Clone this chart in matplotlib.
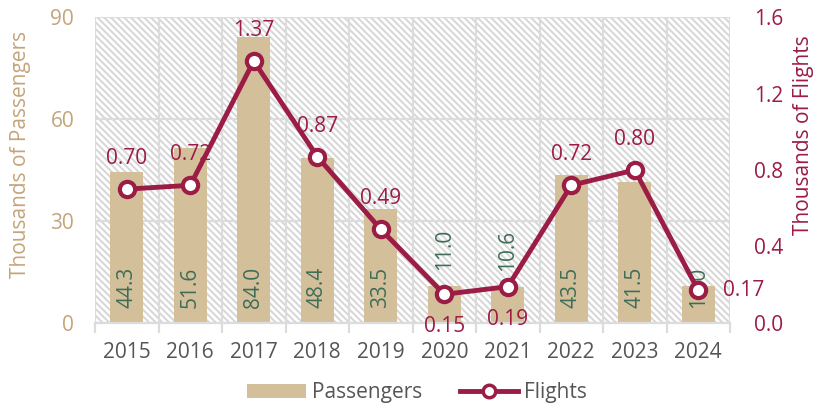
import matplotlib
matplotlib.use('Agg')
from matplotlib import pyplot as plt
from matplotlib.patches import Rectangle
from matplotlib.lines import Line2D
from matplotlib.patches import Patch
import numpy as np

years = ['2015', '2016', '2017', '2018', '2019', '2020', '2021', '2022', '2023', '2024']
passengers = [44.3, 51.6, 84.0, 48.4, 33.5, 11.0, 10.6, 43.5, 41.5, 11.0]
flights = [0.70, 0.72, 1.37, 0.87, 0.49, 0.15, 0.19, 0.72, 0.80, 0.17]

tan = '#D3C09A'
tan_text = '#C4A47A'
maroon = '#9B1C45'
green = '#3F6D58'
grid = '#DCDCDC'

plt.rcParams['font.family'] = ['Open Sans', 'DejaVu Sans']
plt.rcParams['hatch.linewidth'] = 1.4
plt.rcParams['hatch.color'] = '#D6D6D6'

fig = plt.figure(figsize=(8.18, 4.16), dpi=100)
ax = fig.add_axes([95 / 818, 93 / 416, 635 / 818, 306 / 416])
ax2 = ax.twinx()

x = np.arange(len(years))

# hatched plot background
ax.add_patch(Rectangle((0, 0), 1, 1, transform=ax.transAxes, facecolor='white',
                       edgecolor='#D6D6D6', hatch='\\' * 5, linewidth=0, zorder=0))

bars = ax.bar(x, passengers, width=0.52, color=tan, zorder=2)
ax.set_xlim(-0.5, len(years) - 0.5)
ax.set_ylim(0, 90)
ax.set_yticks([0, 30, 60, 90])
ax.set_xticks(x)
ax.set_xticklabels(years)
ax.set_xticks(np.arange(-0.5, len(years)), minor=True)
ax.grid(True, which='minor', axis='x', color=grid, linewidth=1.6, zorder=1)
ax.grid(True, which='major', axis='y', color=grid, linewidth=1.6, zorder=1)
ax.set_axisbelow(True)
ax.tick_params(axis='x', which='major', length=0, labelsize=15, colors='#555555', pad=14)
ax.tick_params(axis='x', which='minor', length=7, width=1.6, color=grid)
ax.tick_params(axis='y', length=0, labelsize=15, colors=tan_text, pad=15)
for s in ax.spines.values():
    s.set_visible(False)
ax.spines['bottom'].set_visible(True)
ax.spines['bottom'].set_color(grid)
ax.spines['bottom'].set_linewidth(1.6)
ax.set_ylabel('Thousands of Passengers', fontsize=15, color=tan_text)
ax.yaxis.set_label_coords(-0.100, 0.55)

# passenger labels, rotated; short bars get theirs above the bar
above = {5, 6}
for i, (rect, val) in enumerate(zip(bars, passengers)):
    cx = rect.get_x() + rect.get_width() / 2
    if i in above:
        ax.annotate(f'{val:.1f}', xy=(cx, val), xytext=(0, 16), textcoords='offset pixels',
                    rotation=90, ha='center', va='bottom', fontsize=15, color=green, zorder=5)
    else:
        ax.annotate(f'{val:.1f}', xy=(cx, 0), xytext=(0, 15), textcoords='offset pixels',
                    rotation=90, ha='center', va='bottom', fontsize=15, color=green, zorder=5)

ax2.plot(x, flights, color=maroon, linewidth=3.5, marker='o', markersize=11,
         markerfacecolor='white', markeredgecolor=maroon, markeredgewidth=3, zorder=4)
ax2.set_ylim(0, 1.6)
ax2.set_yticks([0, 0.4, 0.8, 1.2, 1.6])
ax2.set_yticklabels(['0.0', '0.4', '0.8', '1.2', '1.6'])
ax2.tick_params(axis='y', length=0, labelsize=15, colors=maroon, pad=17)
for s in ax2.spines.values():
    s.set_visible(False)
ax2.set_ylabel('Thousands of Flights', fontsize=15, color=maroon)
ax2.yaxis.set_label_coords(1.100, 0.615)

# flight labels: above the point, below for the dips, right for the last one
for i, val in enumerate(flights):
    if i in (5, 6):
        off, ha, va = (0, -22), 'center', 'top'
    elif i == len(flights) - 1:
        off, ha, va = (25, 0), 'left', 'center'
    else:
        off, ha, va = (0, 20), 'center', 'bottom'
    ax2.annotate(f'{val:.2f}', xy=(x[i], val), xytext=off, textcoords='offset pixels',
                 ha=ha, va=va, fontsize=15, color=maroon, zorder=6)

handles = [Patch(facecolor=tan, edgecolor='none'),
           Line2D([], [], color=maroon, linewidth=3.5, marker='o', markersize=9,
                  markerfacecolor='white', markeredgecolor=maroon, markeredgewidth=2.5)]
fig.legend(handles, ['Passengers', 'Flights'], loc='lower center', ncol=2, frameon=False,
           bbox_to_anchor=(0.51, -0.015), fontsize=15, labelcolor='#555555',
           handlelength=2.8, handletextpad=0.3, columnspacing=1.8)

fig.savefig('out.png', dpi=100)
